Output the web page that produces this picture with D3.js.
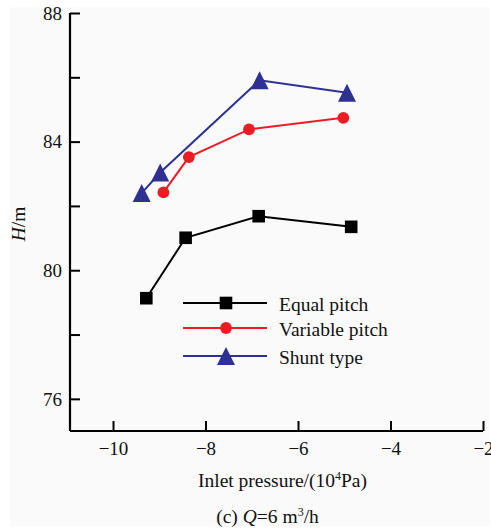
<!DOCTYPE html>
<html>
<head>
<meta charset="utf-8">
<script src="https://cdn.jsdelivr.net/npm/d3@7"></script>
<style>
  html, body { margin: 0; padding: 0; background: #ffffff; }
  svg { display: block; }
  text { font-family: "Liberation Serif", "Times New Roman", serif; fill: #111; }
</style>
</head>
<body>
<svg id="chart" width="491" height="532"></svg>
<script>
// ---- data ----
const seriesNames = ["Equal pitch", "Variable pitch", "Shunt type"];
const equalPitchX = [-9.28, -8.43, -6.85, -4.85];
const equalPitchY = [79.13, 81.01, 81.68, 81.35];
const variablePitchX = [-8.91, -8.36, -7.06, -5.02];
const variablePitchY = [82.42, 83.52, 84.38, 84.74];
const shuntTypeX = [-9.38, -8.98, -6.83, -4.94];
const shuntTypeY = [82.40, 83.04, 85.91, 85.52];
const xTicks = [-10, -8, -6, -4, -2];
const yTicks = [76, 78, 80, 82, 84, 86, 88];
const yTickLabels = [76, 80, 84, 88];
const xLabel = "Inlet pressure/(10";
const yLabel = "/m";

// ---- layout ----
const svg = d3.select("#chart");
svg.append("rect").attr("x", 10).attr("y", 7.5).attr("width", 480).attr("height", 519)
  .attr("fill", "#fafafa");

const x = d3.scaleLinear().domain([-10.93, -2]).range([70, 483]);
const y = d3.scaleLinear().domain([75, 88]).range([431, 13]);

const colors = ["#000000", "#ed1c24", "#2e3192"];
const series = [
  { name: seriesNames[0], xs: equalPitchX, ys: equalPitchY, color: colors[0], shape: "square" },
  { name: seriesNames[1], xs: variablePitchX, ys: variablePitchY, color: colors[1], shape: "circle" },
  { name: seriesNames[2], xs: shuntTypeX, ys: shuntTypeY, color: colors[2], shape: "triangle" }
];

function drawMarker(g, shape, cx, cy, color) {
  if (shape === "square") {
    g.append("rect").attr("x", cx - 6.3).attr("y", cy - 6.3).attr("width", 12.6).attr("height", 12.6)
      .attr("fill", color);
  } else if (shape === "circle") {
    g.append("circle").attr("cx", cx).attr("cy", cy).attr("r", 5.9).attr("fill", color);
  } else {
    const s = 9;
    g.append("path").attr("d", `M${cx},${cy - s} L${cx + s},${cy + s} L${cx - s},${cy + s} Z`)
      .attr("fill", color);
  }
}

// axes
const xAxis = d3.axisBottom(x).tickValues(xTicks).tickSizeInner(-10).tickSizeOuter(0)
  .tickFormat(d => d3.format("d")(d).replace("-", "\u2212"));
const gx = svg.append("g").attr("transform", "translate(0,431)").call(xAxis);
gx.select(".domain").attr("d", `M70,0H${x(-2)}`).attr("stroke", "#000").attr("stroke-width", 2.2);
gx.selectAll(".tick line").attr("stroke", "#000").attr("stroke-width", 2);
gx.selectAll(".tick text").attr("y", 24).attr("dy", 0).attr("font-size", 19)
  .attr("font-family", "Liberation Serif, Times New Roman, serif").attr("fill", "#111");

const yAxis = d3.axisLeft(y).tickValues(yTicks).tickSizeInner(-10).tickSizeOuter(0)
  .tickFormat(d => yTickLabels.includes(d) ? String(d) : "");
const gy = svg.append("g").attr("transform", "translate(70,0)").call(yAxis);
gy.select(".domain").attr("d", `M0,${y(88)}V431`).attr("stroke", "#000").attr("stroke-width", 2.2);
gy.selectAll(".tick line").attr("stroke", "#000").attr("stroke-width", 2);
gy.selectAll(".tick text").attr("x", -8).attr("dy", "0.33em").attr("font-size", 19)
  .attr("font-family", "Liberation Serif, Times New Roman, serif").attr("fill", "#111");

// lines and markers
const line = d3.line().x(d => x(d[0])).y(d => y(d[1]));
series.forEach(s => {
  const pts = s.xs.map((v, i) => [v, s.ys[i]]);
  svg.append("path").datum(pts).attr("d", line).attr("fill", "none")
    .attr("stroke", s.color).attr("stroke-width", 2);
  const g = svg.append("g");
  pts.forEach(p => drawMarker(g, s.shape, x(p[0]), y(p[1]), s.color));
});

// legend
const legendRows = [303, 328, 356];
series.forEach((s, i) => {
  const ly = legendRows[i];
  svg.append("line").attr("x1", 183).attr("x2", 267).attr("y1", ly).attr("y2", ly)
    .attr("stroke", s.color).attr("stroke-width", 2);
  drawMarker(svg, s.shape, 226, ly, s.color);
  svg.append("text").attr("x", 279).attr("y", ly + 7.5).attr("font-size", 19.5).text(s.name);
});

// axis titles
const xt = svg.append("text").attr("x", 282.5).attr("y", 487).attr("text-anchor", "middle").attr("font-size", 19.5);
xt.append("tspan").text(xLabel);
xt.append("tspan").attr("font-size", 12).attr("dy", -7).text("4");
xt.append("tspan").attr("dy", 7).text("Pa)");

const yt = svg.append("text").attr("transform", "translate(25,224) rotate(-90)")
  .attr("text-anchor", "middle").attr("font-size", 19.5);
yt.append("tspan").attr("font-style", "italic").text("H");
yt.append("tspan").text(yLabel);

const cap = svg.append("text").attr("x", 267.5).attr("y", 523).attr("text-anchor", "middle").attr("font-size", 19.5);
cap.append("tspan").text("(c) ");
cap.append("tspan").attr("font-style", "italic").text("Q");
cap.append("tspan").text("=6 m");
cap.append("tspan").attr("font-size", 12).attr("dy", -7).text("3");
cap.append("tspan").attr("dy", 7).text("/h");
</script>
</body>
</html>
